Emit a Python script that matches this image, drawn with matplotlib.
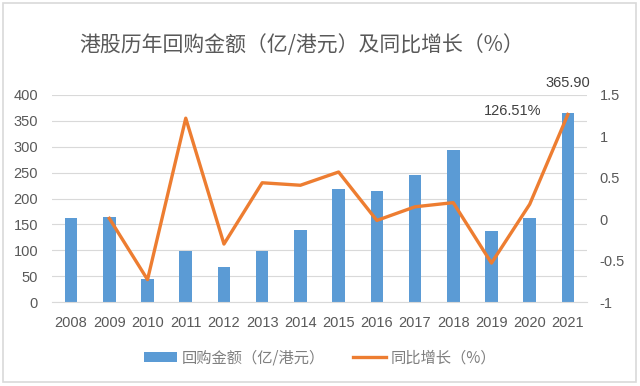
import numpy as np
import matplotlib; matplotlib.use("Agg")
import matplotlib.pyplot as plt
from matplotlib.patches import Rectangle

plt.rcParams.update({"font.family": ["Liberation Sans", "Noto Sans CJK SC", "DejaVu Sans"]})
BLUE = "#5B9BD5"; ORANGE = "#ED7D31"; TXT = "#595959"; GRID = "#D9D9D9"

years = ["2008", "2009", "2010", "2011", "2012", "2013", "2014",
         "2015", "2016", "2017", "2018", "2019", "2020", "2021"]
amount = [162, 164, 44, 98, 68, 98, 139, 218, 214.5, 245, 294, 137, 161.5, 365.90]
growth = [np.nan, 0.01, -0.73, 1.22, -0.30, 0.44, 0.41, 0.57, -0.015, 0.15, 0.20, -0.53, 0.18, 1.2651]
left_ticks = [0, 50, 100, 150, 200, 250, 300, 350, 400]
right_ticks = [-1, -0.5, 0, 0.5, 1, 1.5]
right_labels = ["-1", "-0.5", "0", "0.5", "1", "1.5"]

fig = plt.figure(figsize=(6.4, 3.86), dpi=100, facecolor="white")
fig.patches.append(Rectangle((0.005, 0.01), 0.988, 0.982, transform=fig.transFigure,
                             fill=False, edgecolor=GRID, lw=1.2))
ax = fig.add_axes([52/640, 1-302/386, 535/640, 207/386])
x = np.arange(len(years))
bars = ax.bar(x, amount, width=0.33, color=BLUE, zorder=2, label="回购金额（亿/港元）")
ax.set_xlim(-0.5, len(years)-0.5); ax.set_ylim(0, 400)
ax.set_yticks(left_ticks); ax.set_xticks(x, years)
ax.grid(True, axis="y", color=GRID, lw=0.8, zorder=0)
for s in ["top", "right", "left"]: ax.spines[s].set_visible(False)
ax.spines["bottom"].set_color(GRID)
ax.tick_params(axis="both", length=0, colors=TXT, labelsize=10.5)
ax.tick_params(axis="y", pad=10)
ax.tick_params(axis="x", pad=10)

ax2 = ax.twinx()
line, = ax2.plot(x, growth, color=ORANGE, lw=2.4, zorder=3, label="同比增长（%）")
ax2.set_ylim(-1, 1.5)
ax2.set_yticks(right_ticks, right_labels)
for s in ax2.spines.values(): s.set_visible(False)
ax2.tick_params(axis="y", length=0, colors=TXT, labelsize=10.5, pad=9)

ax.annotate("365.90", (x[-1], amount[-1]), textcoords="offset points", xytext=(0, 21),
            ha="center", va="center", fontsize=10.5, color="#404040")
ax2.annotate("126.51%", (x[-1], growth[-1]), textcoords="offset points", xytext=(-40, 2.5),
             ha="center", va="center", fontsize=10.5, color="#404040")

fig.text(302/640, 1-45/386, "港股历年回购金额（亿/港元）及同比增长（%）", ha="center", va="center",
         fontsize=15, color=TXT, family=["Noto Sans CJK SC", "DejaVu Sans"])
leg = fig.legend([bars, line], ["回购金额（亿/港元）", "同比增长（%）"], loc="center",
                 bbox_to_anchor=(0.5, 1-358/386), ncol=2, frameon=False, fontsize=11,
                 handlelength=2.2, handleheight=0.55, handletextpad=0.3, columnspacing=1.8,
                 prop={"family": ["Noto Sans CJK SC", "DejaVu Sans"], "size": 11})
for t in leg.get_texts(): t.set_color("#7F7F7F")

fig.savefig("out.png", dpi=100, facecolor="white")
